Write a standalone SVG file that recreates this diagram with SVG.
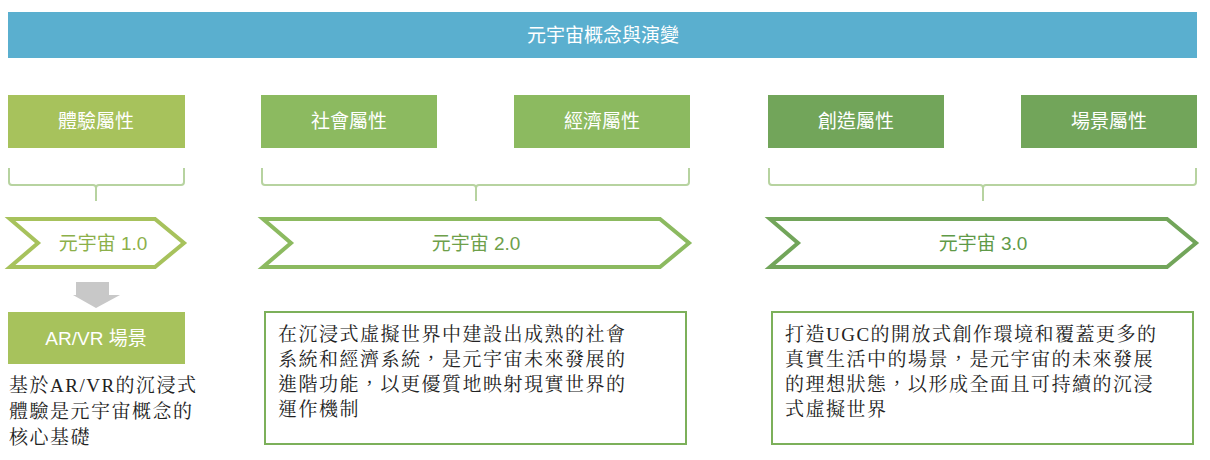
<svg xmlns="http://www.w3.org/2000/svg" width="1210" height="460" viewBox="0 0 1210 460">
<style>
.t{font-family:"Liberation Sans","Noto Sans CJK TC",sans-serif;fill:#fff;font-size:19px;text-anchor:middle}
.c{fill:none;stroke-width:4;stroke-linejoin:miter}
.ct{font-family:"Liberation Sans","Noto Sans CJK TC",sans-serif;font-size:19px;text-anchor:middle}
.br{fill:none;stroke:#b7d3a0;stroke-width:2}
.body{font-family:"Liberation Serif","Noto Serif CJK TC","Noto Sans CJK TC",serif;font-size:19px;fill:#222;letter-spacing:1.5px}
.box{fill:#fff;stroke:#7cb05a;stroke-width:2}
</style>
<rect width="1210" height="460" fill="#fff"/>
<g id="title"><rect x="8" y="12" width="1189" height="46" fill="#5aafcf"/><text class="t" x="603" y="42" font-size="21">元宇宙概念與演變</text></g>
<g id="attr1"><rect x="8" y="95" width="177" height="53" fill="#a7c25c"/><text class="t" x="96" y="128">體驗屬性</text></g>
<g id="attr2"><rect x="261" y="95" width="176" height="53" fill="#8cba60"/><text class="t" x="349" y="128">社會屬性</text></g>
<g id="attr3"><rect x="514" y="95" width="176" height="53" fill="#8cba60"/><text class="t" x="602" y="128">經濟屬性</text></g>
<g id="attr4"><rect x="768" y="95" width="176" height="53" fill="#72a55a"/><text class="t" x="856" y="128">創造屬性</text></g>
<g id="attr5"><rect x="1021" y="95" width="176" height="53" fill="#72a55a"/><text class="t" x="1109" y="128">場景屬性</text></g>
<g id="connectors">
<path class="br" d="M9 168 V182 Q9 185 12 185 H93 Q96 185 96 188 V201 M96 188 Q96 185 99 185 H181 Q184 185 184 182 V168"/>
<path class="br" d="M262 168 V182 Q262 185 265 185 H473 Q476 185 476 188 V201 M476 188 Q476 185 479 185 H686 Q689 185 689 182 V168"/>
<path class="br" d="M769 168 V182 Q769 185 772 185 H980 Q983 185 983 188 V201 M983 188 Q983 185 986 185 H1193 Q1196 185 1196 182 V168"/>
<path d="M76 282 H109 V295 H120 L96 308 L73 295 H76 Z" fill="#c8c8c8"/>
</g>
<g id="v1"><path class="c" stroke="#a7c25c" d="M10 219 H155 L184 243 L155 267 H10 L38 243 Z"/><text class="ct" x="103" y="250" fill="#8cb04a">元宇宙 1.0</text></g>
<g id="v2"><path class="c" stroke="#8cba60" d="M263 219 H660 L689 243 L660 267 H263 L291 243 Z"/><text class="ct" x="476" y="250" fill="#6ea04a">元宇宙 2.0</text></g>
<g id="v3"><path class="c" stroke="#72a55a" d="M770 219 H1167 L1196 243 L1167 267 H770 L798 243 Z"/><text class="ct" x="983" y="250" fill="#5f9a48">元宇宙 3.0</text></g>
<g id="arvr"><rect x="8" y="312" width="177" height="52" fill="#a7c25c"/><text class="t" x="96" y="345">AR/VR 場景</text>
<text class="body" x="9" y="392">基於AR/VR的沉浸式</text><text class="body" x="9" y="418">體驗是元宇宙概念的</text><text class="body" x="9" y="444">核心基礎</text></g>
<g id="desc2"><rect class="box" x="265" y="312" width="421" height="132"/>
<text class="body" x="278" y="341">在沉浸式虛擬世界中建設出成熟的社會</text><text class="body" x="278" y="366">系統和經濟系統，是元宇宙未來發展的</text><text class="body" x="278" y="391">進階功能，以更優質地映射現實世界的</text><text class="body" x="278" y="416">運作機制</text></g>
<g id="desc3"><rect class="box" x="772" y="312" width="421" height="132"/>
<text class="body" x="785" y="341">打造UGC的開放式創作環境和覆蓋更多的</text><text class="body" x="785" y="366">真實生活中的場景，是元宇宙的未來發展</text><text class="body" x="785" y="391">的理想狀態，以形成全面且可持續的沉浸</text><text class="body" x="785" y="416">式虛擬世界</text></g>
</svg>
